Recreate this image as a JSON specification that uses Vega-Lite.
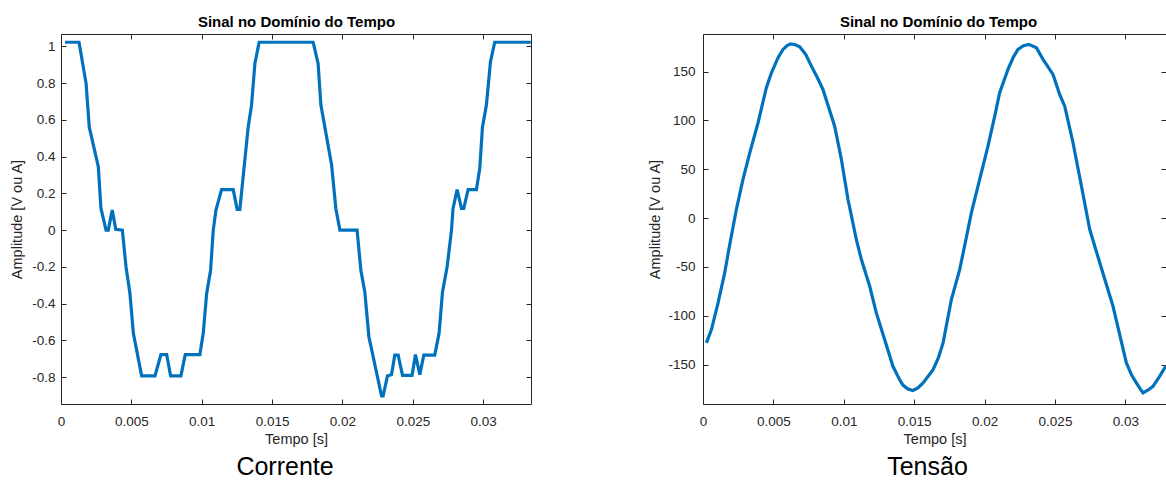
{
  "$schema": "https://vega.github.io/schema/vega-lite/v6.json",
  "autosize": {"type": "pad"},
  "padding": {"left": 9, "top": 14, "right": 0, "bottom": 0},
  "bounds": "flush",
  "spacing": 172,
  "background": "white",
  "config": {
    "view": {"stroke": null},
    "axis": {
      "labelFont": "Liberation Sans", "labelFontSize": 13.5, "labelColor": "#262626",
      "titleFont": "Liberation Sans", "titleFontSize": 14.5, "titleFontWeight": "normal", "titleColor": "#262626",
      "domainColor": "#262626", "tickColor": "#262626", "tickSize": -5, "grid": false,
      "labelFlush": false, "labelOverlap": false
    },
    "title": {"font": "Liberation Sans"}
  },
  "datasets": {
    "corrente": [
      {"t": 0.00028, "v": 1.022}, {"t": 0.00128, "v": 1.022}, {"t": 0.00178, "v": 0.80}, {"t": 0.00201, "v": 0.56},
      {"t": 0.00265, "v": 0.345}, {"t": 0.00284, "v": 0.118}, {"t": 0.00320, "v": 0.0}, {"t": 0.00336, "v": 0.0},
      {"t": 0.00364, "v": 0.109}, {"t": 0.00389, "v": 0.004}, {"t": 0.00436, "v": 0.0}, {"t": 0.00462, "v": -0.2},
      {"t": 0.00490, "v": -0.345}, {"t": 0.00514, "v": -0.56}, {"t": 0.00573, "v": -0.793}, {"t": 0.00668, "v": -0.793},
      {"t": 0.00710, "v": -0.677}, {"t": 0.00751, "v": -0.677}, {"t": 0.00779, "v": -0.793}, {"t": 0.00852, "v": -0.793},
      {"t": 0.00883, "v": -0.677}, {"t": 0.00987, "v": -0.677}, {"t": 0.01011, "v": -0.56}, {"t": 0.01035, "v": -0.345},
      {"t": 0.01063, "v": -0.218}, {"t": 0.01082, "v": 0.0}, {"t": 0.01101, "v": 0.109}, {"t": 0.01141, "v": 0.22},
      {"t": 0.01224, "v": 0.22}, {"t": 0.01252, "v": 0.113}, {"t": 0.01271, "v": 0.113}, {"t": 0.01330, "v": 0.56},
      {"t": 0.01354, "v": 0.68}, {"t": 0.01378, "v": 0.907}, {"t": 0.01408, "v": 1.022}, {"t": 0.01792, "v": 1.022},
      {"t": 0.01827, "v": 0.907}, {"t": 0.01847, "v": 0.68}, {"t": 0.01923, "v": 0.354}, {"t": 0.01953, "v": 0.118},
      {"t": 0.01982, "v": 0.0}, {"t": 0.02104, "v": 0.0}, {"t": 0.02131, "v": -0.218}, {"t": 0.02159, "v": -0.336},
      {"t": 0.02188, "v": -0.58}, {"t": 0.02278, "v": -0.902}, {"t": 0.02289, "v": -0.902}, {"t": 0.02320, "v": -0.793},
      {"t": 0.02349, "v": -0.786}, {"t": 0.02372, "v": -0.68}, {"t": 0.02396, "v": -0.68}, {"t": 0.02427, "v": -0.79},
      {"t": 0.02495, "v": -0.79}, {"t": 0.02519, "v": -0.677}, {"t": 0.02550, "v": -0.786}, {"t": 0.02578, "v": -0.68},
      {"t": 0.02656, "v": -0.68}, {"t": 0.02687, "v": -0.56}, {"t": 0.02711, "v": -0.336}, {"t": 0.02744, "v": -0.2},
      {"t": 0.02775, "v": 0.0}, {"t": 0.02786, "v": 0.118}, {"t": 0.02815, "v": 0.22}, {"t": 0.02846, "v": 0.118},
      {"t": 0.02862, "v": 0.118}, {"t": 0.02893, "v": 0.22}, {"t": 0.02952, "v": 0.22}, {"t": 0.02976, "v": 0.336},
      {"t": 0.02995, "v": 0.56}, {"t": 0.03023, "v": 0.68}, {"t": 0.03052, "v": 0.916}, {"t": 0.03082, "v": 1.022},
      {"t": 0.03338, "v": 1.022}
    ],
    "tensao": [
      {"t": 0.00024, "v": -127.8}, {"t": 0.0006, "v": -114.2}, {"t": 0.00107, "v": -86.8}, {"t": 0.00154, "v": -56.1},
      {"t": 0.0019, "v": -27.0}, {"t": 0.00237, "v": 8.8}, {"t": 0.00284, "v": 39.6}, {"t": 0.00332, "v": 66.9},
      {"t": 0.00391, "v": 97.7}, {"t": 0.0045, "v": 133.6}, {"t": 0.00486, "v": 148.9}, {"t": 0.00533, "v": 164.3},
      {"t": 0.00568, "v": 172.8}, {"t": 0.00598, "v": 176.8}, {"t": 0.00623, "v": 178.5}, {"t": 0.00655, "v": 177.6},
      {"t": 0.00687, "v": 175.5}, {"t": 0.0073, "v": 167.5}, {"t": 0.0077, "v": 155.7}, {"t": 0.0081, "v": 144.5},
      {"t": 0.00852, "v": 131.8}, {"t": 0.00935, "v": 94.2}, {"t": 0.00983, "v": 60.1}, {"t": 0.0103, "v": 19.1},
      {"t": 0.01089, "v": -21.9}, {"t": 0.01125, "v": -42.4}, {"t": 0.01184, "v": -69.8}, {"t": 0.01231, "v": -97.1},
      {"t": 0.0129, "v": -124.4}, {"t": 0.01349, "v": -151.8}, {"t": 0.01396, "v": -165.4}, {"t": 0.0142, "v": -171.0},
      {"t": 0.01455, "v": -175.0}, {"t": 0.01491, "v": -176.7}, {"t": 0.01528, "v": -173.6}, {"t": 0.01563, "v": -168.8},
      {"t": 0.01634, "v": -155.2}, {"t": 0.01672, "v": -143.0}, {"t": 0.01705, "v": -127.8},
      {"t": 0.01764, "v": -83.4}, {"t": 0.01823, "v": -52.7}, {"t": 0.01882, "v": -11.7}, {"t": 0.01906, "v": 5.4},
      {"t": 0.01965, "v": 39.6}, {"t": 0.02024, "v": 73.7}, {"t": 0.02072, "v": 104.4}, {"t": 0.02107, "v": 128.4},
      {"t": 0.02166, "v": 152.3}, {"t": 0.02203, "v": 164.5}, {"t": 0.02237, "v": 172.8}, {"t": 0.02276, "v": 176.6},
      {"t": 0.02315, "v": 178.0}, {"t": 0.02368, "v": 174.6},
      {"t": 0.02415, "v": 162.6}, {"t": 0.02486, "v": 147.2}, {"t": 0.02533, "v": 126.7}, {"t": 0.02569, "v": 114.7},
      {"t": 0.02628, "v": 77.2}, {"t": 0.02688, "v": 32.7}, {"t": 0.02747, "v": -11.7}, {"t": 0.02818, "v": -45.8},
      {"t": 0.02912, "v": -90.3}, {"t": 0.03007, "v": -148.3}, {"t": 0.03045, "v": -161.0}, {"t": 0.03078, "v": -168.8},
      {"t": 0.03103, "v": -174.5}, {"t": 0.03125, "v": -179.1}, {"t": 0.03162, "v": -176.0},
      {"t": 0.03196, "v": -172.3}, {"t": 0.03243, "v": -162.1}, {"t": 0.03286, "v": -151.8}
    ]
  },
  "hconcat": [
    {
      "width": 470, "height": 370,
      "data": {"name": "corrente"},
      "title": {"text": "Corrente", "orient": "bottom", "frame": "group", "fontSize": 25, "fontWeight": "normal", "color": "#000000", "dx": -11, "offset": 29, "baseline": "alphabetic"},
      "layer": [
        {
          "mark": {"type": "line", "color": "#0072BD", "strokeWidth": 3.2, "clip": true},
          "encoding": {
            "x": {"field": "t", "type": "quantitative", "scale": {"domain": [0, 0.0334], "nice": false, "zero": false},
                  "axis": {"orient": "bottom", "title": "Tempo [s]", "values": [0, 0.005, 0.01, 0.015, 0.02, 0.025, 0.03], "labelExpr": "datum.value + ''", "labelPadding": 15, "titlePadding": 5}},
            "y": {"field": "v", "type": "quantitative", "scale": {"domain": [-0.946, 1.067], "nice": false, "zero": false},
                  "axis": {"orient": "left", "title": "Amplitude [V ou A]", "values": [-0.8, -0.6, -0.4, -0.2, 0, 0.2, 0.4, 0.6, 0.8, 1], "labelExpr": "datum.value + ''", "labelPadding": 11, "titlePadding": 7}}
          }
        },
        {
          "mark": {"type": "line", "opacity": 0},
          "encoding": {
            "x": {"field": "t", "type": "quantitative", "axis": {"orient": "top", "labels": false, "values": [0, 0.005, 0.01, 0.015, 0.02, 0.025, 0.03], "title": "Sinal no Domínio do Tempo", "titleFontWeight": "bold", "titleFontSize": 15, "titleColor": "#000000", "titlePadding": 4}},
            "y": {"field": "v", "type": "quantitative", "axis": {"orient": "right", "labels": false, "title": null, "values": [-0.8, -0.6, -0.4, -0.2, 0, 0.2, 0.4, 0.6, 0.8, 1]}}
          }
        }
      ],
      "resolve": {"axis": {"x": "independent", "y": "independent"}}
    },
    {
      "width": 463, "height": 370,
      "data": {"name": "tensao"},
      "title": {"text": "Tensão", "orient": "bottom", "frame": "group", "fontSize": 25, "fontWeight": "normal", "color": "#000000", "dx": -7, "offset": 29, "baseline": "alphabetic"},
      "layer": [
        {
          "mark": {"type": "line", "color": "#0072BD", "strokeWidth": 3.2, "clip": true},
          "encoding": {
            "x": {"field": "t", "type": "quantitative", "scale": {"domain": [0, 0.032884], "nice": false, "zero": false},
                  "axis": {"orient": "bottom", "title": "Tempo [s]", "values": [0, 0.005, 0.01, 0.015, 0.02, 0.025, 0.03], "labelExpr": "datum.value + ''", "labelPadding": 15, "titlePadding": 5}},
            "y": {"field": "v", "type": "quantitative", "scale": {"domain": [-190.4, 188.6], "nice": false, "zero": false},
                  "axis": {"orient": "left", "title": "Amplitude [V ou A]", "values": [-150, -100, -50, 0, 50, 100, 150], "labelExpr": "datum.value + ''", "labelPadding": 13, "titlePadding": 5}}
          }
        },
        {
          "mark": {"type": "line", "opacity": 0},
          "encoding": {
            "x": {"field": "t", "type": "quantitative", "axis": {"orient": "top", "labels": false, "values": [0, 0.005, 0.01, 0.015, 0.02, 0.025, 0.03], "title": "Sinal no Domínio do Tempo", "titleFontWeight": "bold", "titleFontSize": 15, "titleColor": "#000000", "titlePadding": 4, "titleX": 235}},
            "y": {"field": "v", "type": "quantitative", "axis": {"orient": "right", "labels": false, "title": null, "values": [-150, -100, -50, 0, 50, 100, 150]}}
          }
        }
      ],
      "resolve": {"axis": {"x": "independent", "y": "independent"}}
    }
  ]
}
